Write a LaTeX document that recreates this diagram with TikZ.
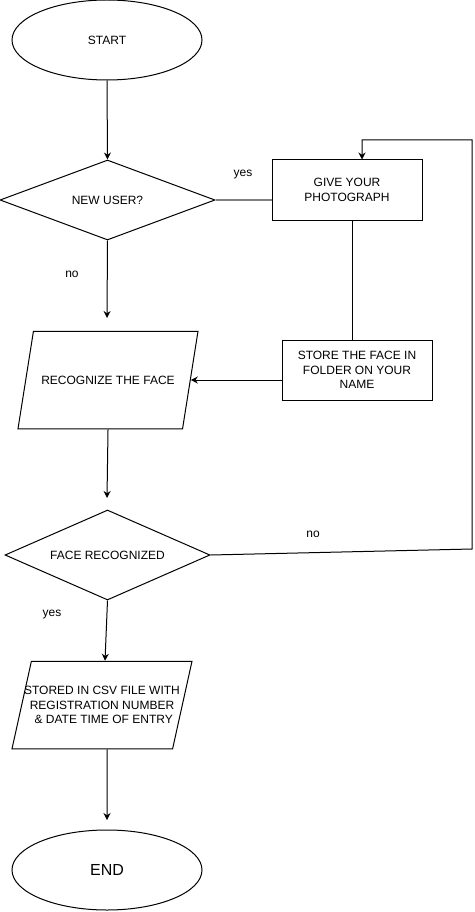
\documentclass[tikz,border=0pt]{standalone}
\usepackage{fontspec}
\setmainfont{Liberation Sans}
\usetikzlibrary{shapes.geometric,arrows.meta}
\begin{document}
\begin{tikzpicture}[x=1pt,y=-1pt,
  every node/.style={font=\fontsize{12}{14.5}\selectfont, text=black},
  base/.style={draw=black, line width=1pt, inner sep=0pt},
  term/.style={base, ellipse, minimum width=190pt, minimum height=80pt},
  dec/.style={base, diamond},
  proc/.style={base, rectangle, minimum width=150pt, minimum height=60pt, align=center},
  io/.style={base, trapezium, trapezium stretches body=true, align=center, inner xsep=0pt},
  conn/.style={line width=1pt, -{Stealth[length=7pt,width=7pt]}},
  link/.style={line width=1pt},
  graylink/.style={line width=1.6pt, draw=black!50},
  lbl/.style={inner sep=0pt}
]
\useasboundingbox (0,0) rectangle (474,912);

% nodes
\node[term] (start) at (107,40) {START};
\node[dec, aspect=2.69, minimum width=215pt, minimum height=80pt] (newuser) at (107.5,200) {NEW USER?};
\node[proc] (give) at (347,190) {GIVE YOUR\\PHOTOGRAPH};
\node[proc] (store) at (357,370) {STORE THE FACE IN\\FOLDER ON YOUR\\NAME};
\node[io, minimum width=180pt, inner ysep=44.5pt,
      trapezium left angle=81, trapezium right angle=99] (recog) at (108,380) {RECOGNIZE THE FACE};
\node[dec, aspect=2.28, minimum width=205pt, minimum height=90pt] (facerec) at (107.5,555) {FACE RECOGNIZED};
\node[io, minimum width=180pt, inner ysep=25pt, inner xsep=-8pt,
      trapezium left angle=77.5, trapezium right angle=102.5] (csv) at (102,705)
      {STORED IN CSV FILE WITH\\REGISTRATION NUMBER\\\ \& DATE TIME OF ENTRY};
\node[term, font=\fontsize{16}{18}\selectfont] (end) at (107,870) {END};

% labels
\node[lbl] (lyes1) at (243,175) {yes};
\node[lbl] (lno1) at (72,274) {no};
\node[lbl] (lno2) at (313,534) {no};
\node[lbl] (lyes2) at (52,615) {yes};

% free ends / bends
\coordinate (a1) at (107,318);
\coordinate (a2) at (107,498);
\coordinate (a3) at (107,820);
\coordinate (c1) at (472,549);
\coordinate (c2) at (472,140);
\coordinate (c3) at (362,140);

% connectors
\draw[conn] (start.south) -- (newuser.north);
\draw[graylink] (newuser.east) -- (give.west |- newuser.east);
\draw[conn] (newuser.south) -- (a1);
\draw[link] ([xshift=5pt]give.south) -- ([xshift=-5pt]store.north);
\draw[conn] ([yshift=-10pt]store.west) -- (recog.east);
\draw[conn] (recog.south) -- (a2);
\draw[conn] (facerec.east) -- (c1) -- (c2) -- (c3) -- ([xshift=15pt]give.north);
\draw[conn] (facerec.south) -- ([xshift=3pt]csv.north);
\draw[conn] ([xshift=5pt]csv.south) -- (a3);
\end{tikzpicture}
\end{document}
